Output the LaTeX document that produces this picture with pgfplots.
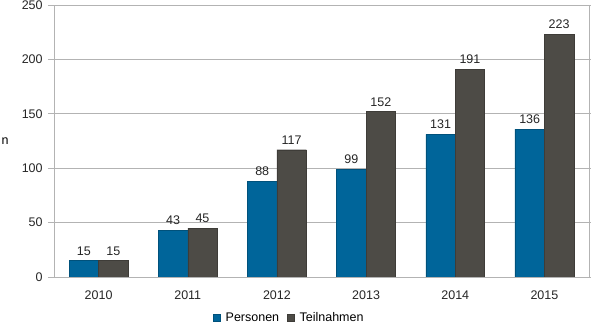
\documentclass[border=0pt]{standalone}
\usepackage{fontspec}
\setmainfont{Liberation Sans}
\usepackage{pgfplots}
\pgfplotsset{compat=1.18}
\definecolor{cblue}{HTML}{00659A}
\definecolor{cgray}{HTML}{4D4B46}
\definecolor{gridc}{HTML}{B3B3B3}
\newcommand{\ff}{\fontsize{12.5}{14}\selectfont}
\begin{document}
\ff
\begin{tikzpicture}
\begin{axis}[
  scale only axis, width=535pt, height=272pt,
  xmin=-0.5, xmax=5.5, ymin=0, ymax=250,
  ytick={0,50,...,250},
  xtick={0,...,5},
  xticklabels={2010,2011,2012,2013,2014,2015},
  major x tick style={draw=none},
  extra x ticks={-0.5,0.5,1.5,2.5,3.5,4.5,5.5},
  extra x tick labels={},
  extra x tick style={major tick length=7pt, tick align=outside, major tick style={draw=gridc, line width=0.8pt}, grid=none},
  ytick style={draw=gridc, line width=0.8pt},
  major tick length=6pt, tick align=outside,
  ymajorgrids, grid style={draw=gridc, line width=0.8pt},
  axis line style={draw=gridc, line width=0.8pt},
  tick label style={font=\ff, text=black!85},
  /pgf/number format/assume math mode=true,
  xticklabel style={yshift=-3pt},
  yticklabel style={xshift=-1pt},
  ylabel={n},
  every axis y label/.style={at={(rel axis cs:0,0.5)}, xshift=-49pt, anchor=center, font=\ff},
  ybar, bar width=0.33,
  nodes near coords,
  every node near coord/.append style={font=\ff, text=black!85, yshift=1pt},
  legend style={at={(0.44,-0.118)}, anchor=north, legend columns=2, draw=none, inner sep=1pt, font=\ff, column sep=3pt, /tikz/every even column/.append style={column sep=6pt}},
  legend image code/.code={\fill[#1] (0pt,-3.5pt) rectangle (7pt,3.5pt);},
]
\addplot[fill=cblue, draw=cblue!80!black, bar shift=-0.165] coordinates {(0,15) (1,43) (2,88) (3,99) (4,131) (5,136)};
\addplot[fill=cgray, draw=cgray!80!black, bar shift=0.165] coordinates {(0,15) (1,45) (2,117) (3,152) (4,191) (5,223)};
\legend{Personen, Teilnahmen}
\end{axis}
\pgfresetboundingbox
\path (current axis.south west) ++(-54pt,-49pt) rectangle ++(591pt,326pt);
\end{tikzpicture}
\end{document}
